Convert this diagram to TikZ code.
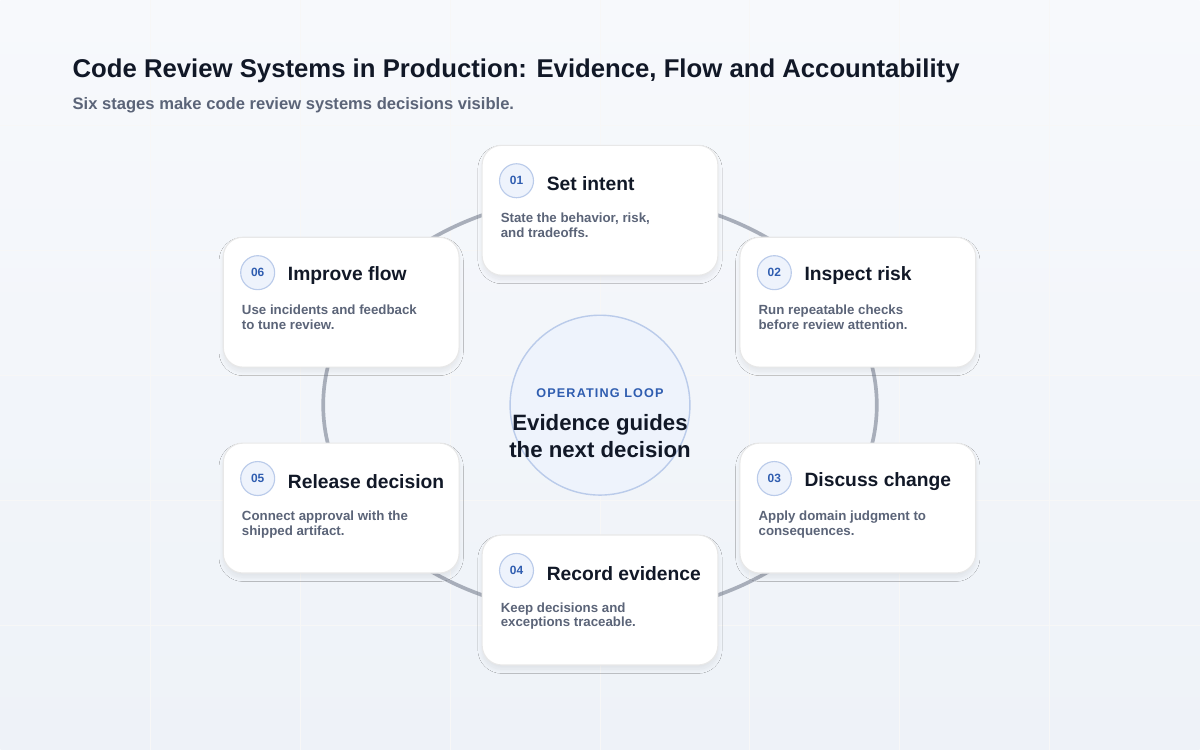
\documentclass[tikz,border=0pt]{standalone}
\usepackage{fontspec}
\setmainfont{Liberation Sans}
\usetikzlibrary{positioning,shadows.blur}
\definecolor{ink}{HTML}{111827}
\definecolor{muted}{HTML}{5B6478}
\definecolor{ring}{HTML}{A8AEBA}
\definecolor{accent}{HTML}{2F5DB0}
\definecolor{badgefill}{HTML}{EEF3FC}
\definecolor{badgeline}{HTML}{BACBEA}
\definecolor{bgtop}{HTML}{F7F9FC}
\definecolor{bgbot}{HTML}{EEF2F8}
\tikzset{
  card/.style={draw=black!9,fill=white,rounded corners=14pt,minimum width=236*0.025cm,
    minimum height=130*0.025cm,line width=0.8pt,blur shadow={shadow blur steps=10,shadow blur radius=3pt,shadow xshift=0pt,shadow yshift=-3pt,shadow opacity=7}},
  badge/.style={circle,draw=badgeline,fill=badgefill,line width=0.8pt,minimum size=34*0.025cm,inner sep=0pt,
    font=\fontsize{8.5}{10}\selectfont\bfseries,text=accent},
  ctitle/.style={anchor=west,font=\fontsize{13.7}{16}\selectfont\bfseries,text=ink,inner sep=0pt},
  cdesc/.style={anchor=north west,align=left,font=\fontsize{9.45}{10.4}\selectfont\bfseries,text=muted,inner sep=0pt}
}
% one stage card: name, centre, number, title, description
\newcommand{\stagecard}[5]{%
  \node[card] (#1) at (#2) {};
  \node[badge] (#1b) at ([xshift=35*0.025cm,yshift=-36*0.025cm]#1.north west) {#3};
  \node[ctitle] (#1t) at ([xshift=30*0.025cm,yshift=-3*0.025cm]#1b.center) {#4};
  \node[cdesc] (#1d) at ([xshift=19*0.025cm,yshift=-68*0.025cm]#1.north west) {#5};
}
\begin{document}
\begin{tikzpicture}[x=0.025cm,y=-0.025cm]
  \shade[top color=bgtop,bottom color=bgbot] (0,0) rectangle (1200,750);
  \foreach \gx in {150,300,...,1050} \draw[black!3,line width=0.6pt] (\gx,0) -- (\gx,750);
  \foreach \gy in {125,250,...,625} \draw[black!3,line width=0.6pt] (0,\gy) -- (1200,\gy);
  \useasboundingbox (0,0) rectangle (1200,750);

  \node[anchor=base west,inner sep=0pt,font=\fontsize{18.3}{21}\selectfont\bfseries,text=ink] (title) at (72,77) {Code Review Systems in Production: Evidence, Flow and Accountability};
  \node[anchor=base west,inner sep=0pt,font=\fontsize{11.8}{14}\selectfont\bfseries,text=muted] (sub) at (72,109) {Six stages make code review systems decisions visible.};

  \draw[ring,line width=2.6pt] (600,405) ellipse ({277*0.025cm} and {210*0.025cm});
  \node[circle,draw=badgeline,fill=badgefill,line width=1pt,minimum size=180*0.025cm] (hub) at (600,405) {};
  \node[font=\fontsize{9}{10}\selectfont\bfseries\addfontfeature{LetterSpace=9},text=accent] (hubk) at (600,393) {OPERATING LOOP};
  \node[align=center,font=\fontsize{15.8}{19}\selectfont\bfseries,text=ink] (hubt) at (600,436) {Evidence guides\\the next decision};

  \stagecard{s1}{600,210}{01}{Set intent}{State the behavior, risk,\\and tradeoffs.}
  \stagecard{s2}{858,302}{02}{Inspect risk}{Run repeatable checks\\before review attention.}
  \stagecard{s3}{858,508}{03}{Discuss change}{Apply domain judgment to\\consequences.}
  \stagecard{s4}{600,600}{04}{Record evidence}{Keep decisions and\\exceptions traceable.}
  \stagecard{s5}{341,508}{05}{Release decision}{Connect approval with the\\shipped artifact.}
  \stagecard{s6}{341,302}{06}{Improve flow}{Use incidents and feedback\\to tune review.}
\end{tikzpicture}
\end{document}
